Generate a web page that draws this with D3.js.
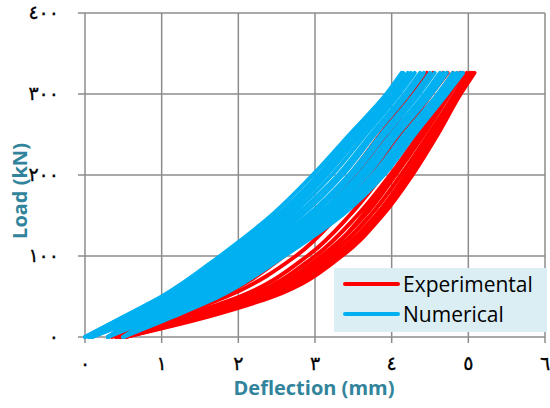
<!DOCTYPE html>
<html>
<head>
<meta charset="utf-8">
<script src="https://cdn.jsdelivr.net/npm/d3@7"></script>
<style>
  body { margin: 0; background: #fff; }
  .tick-label { font-family: "DejaVu Sans", sans-serif; font-size: 19px; fill: #000; stroke: #000; stroke-width: 0.3px; }
  .axisTitle { font-family: "Open Sans", sans-serif; font-weight: bold; font-size: 20px; fill: #31849B; }
  .legendText { font-family: "Open Sans", sans-serif; font-size: 21px; fill: #000; }
</style>
</head>
<body>
<div id="chart"></div>
<script>
var svgWidth = 550;
var svgHeight = 408;

// load levels shared by every curve (kN)
var loads = [0, 25, 50, 100, 150, 200, 250, 300, 326];

// deflection (mm) of each curve at the load levels above
var experimental = [
  [0.30, 0.85, 1.45, 2.30, 2.95, 3.45, 3.85, 4.25, 4.46],
  [0.35, 0.95, 1.60, 2.45, 3.05, 3.55, 3.95, 4.33, 4.54],
  [0.40, 1.05, 1.75, 2.60, 3.20, 3.68, 4.10, 4.47, 4.67],
  [0.42, 1.15, 1.85, 2.75, 3.30, 3.75, 4.15, 4.52, 4.73],
  [0.45, 1.25, 2.02, 2.90, 3.45, 3.88, 4.25, 4.62, 4.80],
  [0.48, 1.32, 2.12, 3.00, 3.55, 3.98, 4.35, 4.70, 4.89],
  [0.50, 1.38, 2.20, 3.08, 3.65, 4.05, 4.42, 4.76, 4.93],
  [0.50, 1.45, 2.28, 3.17, 3.72, 4.12, 4.48, 4.82, 4.98],
  [0.52, 1.50, 2.35, 3.24, 3.79, 4.18, 4.53, 4.86, 5.02],
  [0.52, 1.55, 2.40, 3.30, 3.84, 4.22, 4.57, 4.88, 5.05],
  [0.52, 1.60, 2.45, 3.35, 3.88, 4.27, 4.60, 4.90, 5.08],
  [0.46, 1.42, 2.25, 3.12, 3.62, 4.00, 4.38, 4.72, 4.90]
];

var numerical = [
  [0.00, 0.50, 1.00, 1.76, 2.43, 2.97, 3.45, 3.93, 4.13],
  [0.05, 0.55, 1.05, 1.82, 2.50, 3.04, 3.50, 3.95, 4.15],
  [0.00, 0.52, 1.08, 1.88, 2.56, 3.10, 3.56, 4.01, 4.21],
  [0.09, 0.60, 1.12, 1.92, 2.62, 3.15, 3.60, 4.05, 4.25],
  [0.30, 0.70, 1.18, 1.98, 2.68, 3.22, 3.66, 4.10, 4.30],
  [0.05, 0.62, 1.20, 2.05, 2.75, 3.30, 3.73, 4.17, 4.37],
  [0.10, 0.70, 1.26, 2.10, 2.82, 3.36, 3.78, 4.22, 4.42],
  [0.30, 0.80, 1.32, 2.16, 2.90, 3.44, 3.86, 4.30, 4.50],
  [0.50, 0.90, 1.38, 2.22, 2.95, 3.50, 3.92, 4.36, 4.56],
  [0.09, 0.78, 1.40, 2.28, 3.02, 3.57, 3.99, 4.43, 4.63],
  [0.30, 0.88, 1.46, 2.35, 3.08, 3.62, 4.04, 4.48, 4.68],
  [0.50, 0.98, 1.52, 2.40, 3.14, 3.68, 4.08, 4.52, 4.72],
  [0.30, 0.95, 1.58, 2.46, 3.20, 3.75, 4.16, 4.60, 4.80],
  [0.50, 1.05, 1.64, 2.50, 3.25, 3.80, 4.21, 4.65, 4.85],
  [0.50, 1.10, 1.70, 2.55, 3.30, 3.85, 4.26, 4.70, 4.90],
  [0.50, 1.15, 1.75, 2.60, 3.35, 3.90, 4.30, 4.72, 4.93]
];

var xTicks = [0, 1, 2, 3, 4, 5, 6];
var yTicks = [0, 100, 200, 300, 400];
var seriesNames = ["Experimental", "Numerical"];
var seriesColors = ["#FF0000", "#00B0F0"];

// arabic-indic digits for the tick labels
function arabicDigits(n) {
  var digits = "٠١٢٣٤٥٦٧٨٩";
  return String(n).replace(/[0-9]/g, function(c) { return digits[+c]; });
}

var svg = d3.select("#chart")
  .append("svg")
  .attr("width", svgWidth)
  .attr("height", svgHeight);

var xScale = d3.scaleLinear().domain([0, 6]).range([85, 545]);
var yScale = d3.scaleLinear().domain([0, 400]).range([337, 13]);

// gridlines
svg.append("g")
  .selectAll("line")
  .data(yTicks)
  .enter()
  .append("line")
  .attr("x1", 78)
  .attr("x2", xScale(6))
  .attr("y1", d => yScale(d))
  .attr("y2", d => yScale(d))
  .attr("stroke", "#8c8c8c")
  .attr("stroke-width", 1.5);

svg.append("g")
  .selectAll("line")
  .data(xTicks)
  .enter()
  .append("line")
  .attr("x1", d => xScale(d))
  .attr("x2", d => xScale(d))
  .attr("y1", yScale(400))
  .attr("y2", yScale(0) + 6)
  .attr("stroke", "#8c8c8c")
  .attr("stroke-width", 1.5);

// tick labels
svg.append("g")
  .selectAll("text")
  .data(yTicks)
  .enter()
  .append("text")
  .attr("class", "tick-label")
  .attr("x", 59)
  .attr("y", d => yScale(d) + 6)
  .attr("text-anchor", "end")
  .text(d => arabicDigits(d));

svg.append("g")
  .selectAll("text")
  .data(xTicks)
  .enter()
  .append("text")
  .attr("class", "tick-label")
  .attr("x", d => xScale(d))
  .attr("y", 370)
  .attr("text-anchor", "middle")
  .text(d => arabicDigits(d));

// curves
var line = d3.line()
  .x(d => xScale(d[0]))
  .y(d => yScale(d[1]))
  .curve(d3.curveMonotoneY);

function toPoints(defl) {
  return defl.map((v, i) => [v, loads[i]]);
}

svg.append("g")
  .selectAll("path")
  .data(experimental)
  .enter()
  .append("path")
  .attr("d", d => line(toPoints(d)))
  .attr("fill", "none")
  .attr("stroke", seriesColors[0])
  .attr("stroke-width", 4)
  .attr("stroke-linecap", "round");

svg.append("g")
  .selectAll("path")
  .data(numerical)
  .enter()
  .append("path")
  .attr("d", d => line(toPoints(d)))
  .attr("fill", "none")
  .attr("stroke", seriesColors[1])
  .attr("stroke-width", 4)
  .attr("stroke-linecap", "round");

// legend
var legend = svg.append("g");
legend.append("rect")
  .attr("x", 334)
  .attr("y", 268)
  .attr("width", 213)
  .attr("height", 64)
  .attr("fill", "#DAEEF3");

legend.selectAll(".legendLine")
  .data(seriesNames)
  .enter()
  .append("line")
  .attr("x1", 345)
  .attr("x2", 398)
  .attr("y1", (d, i) => 284 + i * 30)
  .attr("y2", (d, i) => 284 + i * 30)
  .attr("stroke", (d, i) => seriesColors[i])
  .attr("stroke-width", 4)
  .attr("stroke-linecap", "round");

legend.selectAll(".legendText")
  .data(seriesNames)
  .enter()
  .append("text")
  .attr("class", "legendText")
  .attr("x", 403)
  .attr("y", (d, i) => 292 + i * 30)
  .text(d => d);

// axis titles
svg.append("text")
  .attr("class", "axisTitle")
  .attr("x", 314)
  .attr("y", 395)
  .attr("text-anchor", "middle")
  .text("Deflection (mm)");

svg.append("text")
  .attr("class", "axisTitle")
  .attr("transform", "translate(27, 191) rotate(-90)")
  .attr("text-anchor", "middle")
  .text("Load (kN)");
</script>
</body>
</html>
